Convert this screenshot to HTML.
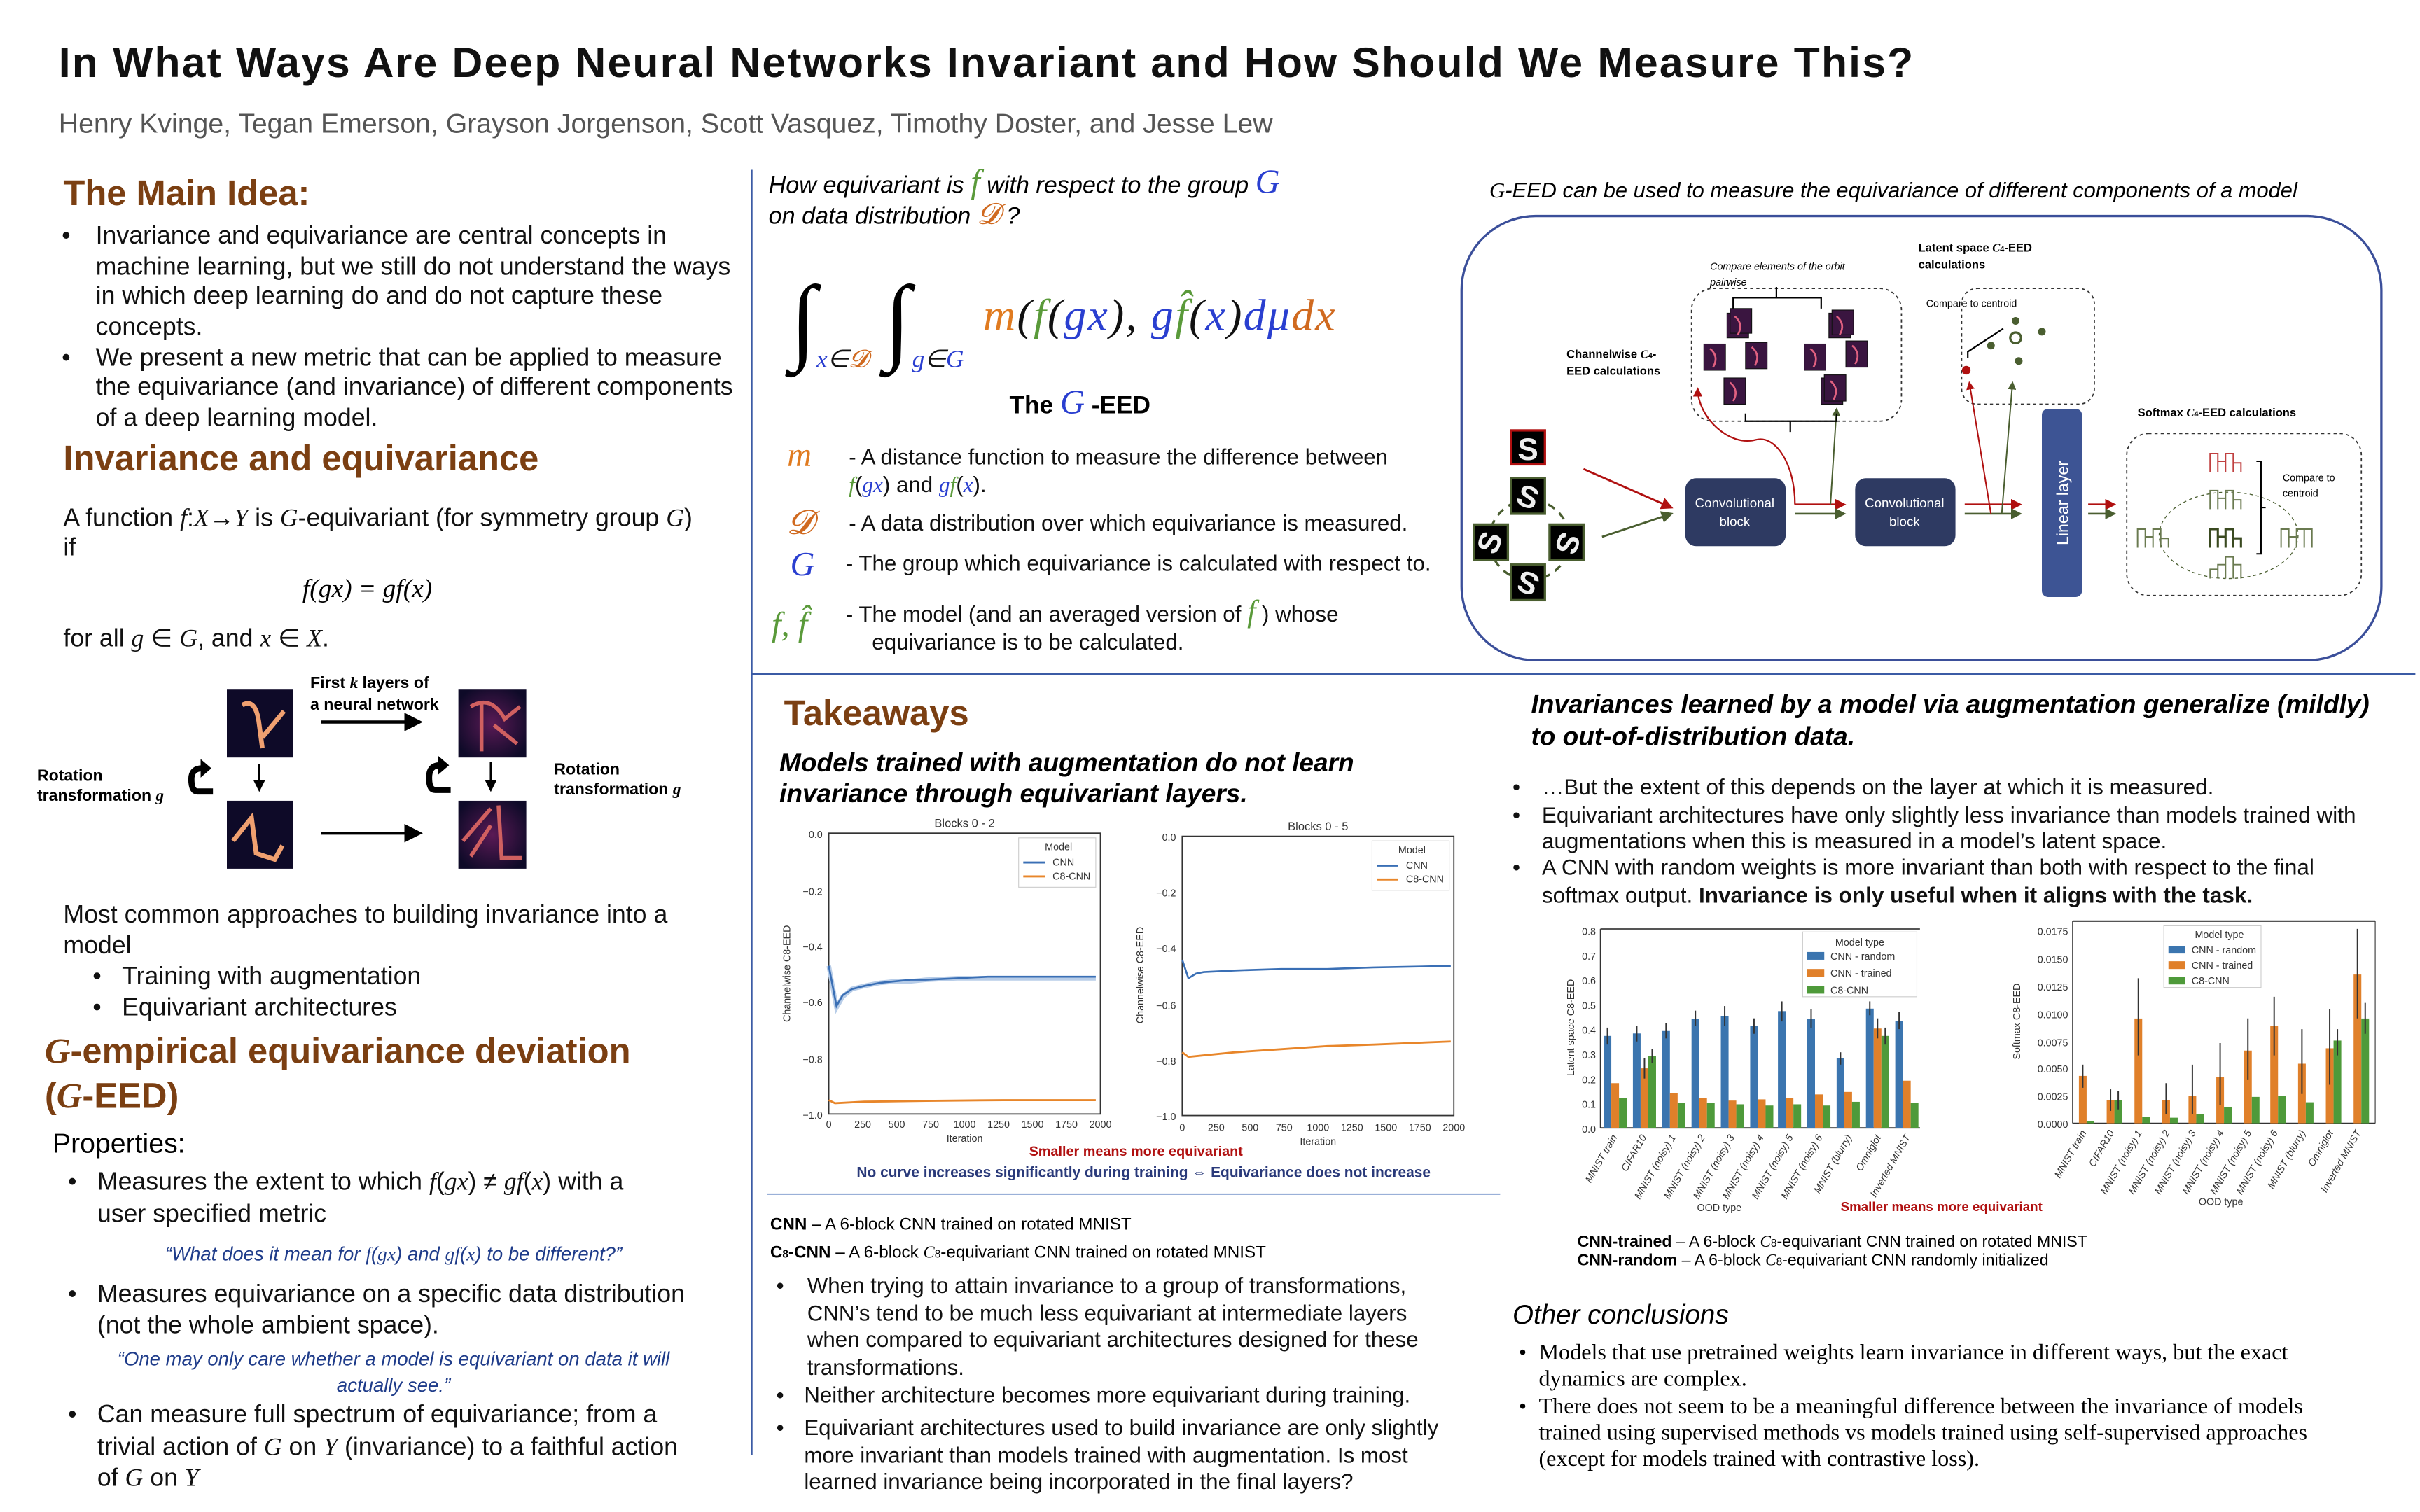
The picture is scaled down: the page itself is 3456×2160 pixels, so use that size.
<!DOCTYPE html>
<html><head><meta charset="utf-8">
<style>
html,body{margin:0;padding:0;background:#fff;}
svg{display:block;}
text{font-family:"Liberation Sans",sans-serif;}
.serif{font-family:"Liberation Serif",serif;}
.h{font-weight:bold;fill:#7b3f12;font-size:23px;}
.b{font-size:16.2px;fill:#111;}
.m{font-size:14.2px;fill:#111;}
.r{font-size:14.3px;fill:#111;}
.ti{font-family:"Liberation Serif",serif;font-style:italic;}
</style></head>
<body>
<svg width="3456" height="2160" viewBox="0 0 1568 980" xmlns="http://www.w3.org/2000/svg">
<defs>
<marker id="ak" markerWidth="6" markerHeight="6" refX="5" refY="3" orient="auto"><path d="M0,0L6,3L0,6z" fill="#000"/></marker>
<marker id="ar" markerWidth="6" markerHeight="6" refX="5" refY="3" orient="auto"><path d="M0,0L6,3L0,6z" fill="#b01010"/></marker>
<marker id="ag" markerWidth="6" markerHeight="6" refX="5" refY="3" orient="auto"><path d="M0,0L6,3L0,6z" fill="#4a5e30"/></marker>
<radialGradient id="hm" cx="50%" cy="50%" r="60%"><stop offset="0" stop-color="#5a1a55"/><stop offset="1" stop-color="#0e0a28"/></radialGradient>
</defs>
<rect width="1568" height="980" fill="#fff"/>
<!-- Title -->
<text x="38" y="50" font-size="27.5" font-weight="bold" fill="#111" letter-spacing="1.0">In What Ways Are Deep Neural Networks Invariant and How Should We Measure This?</text>
<text x="38" y="86" font-size="17.8" fill="#555">Henry Kvinge, Tegan Emerson, Grayson Jorgenson, Scott Vasquez, Timothy Doster, and Jesse Lew</text>

<!-- dividers -->
<line x1="487" y1="110" x2="487" y2="943" stroke="#3b5ba5" stroke-width="1.2"/>
<line x1="487" y1="437" x2="1565" y2="437" stroke="#3b5ba5" stroke-width="1.2"/>

<!-- LEFT COLUMN -->
<text x="41" y="133" class="h">The Main Idea:</text>
<g>
<text x="40" y="158" class="b">•</text>
<text x="62" y="158" class="b">Invariance and equivariance are central concepts in</text>
<text x="62" y="178" class="b">machine learning, but we still do not understand the ways</text>
<text x="62" y="197" class="b">in which deep learning do and do not capture these</text>
<text x="62" y="217" class="b">concepts.</text>
<text x="40" y="237" class="b">•</text>
<text x="62" y="237" class="b">We present a new metric that can be applied to measure</text>
<text x="62" y="256" class="b">the equivariance (and invariance) of different components</text>
<text x="62" y="276" class="b">of a deep learning model.</text>
</g>
<text x="41" y="305" class="h">Invariance and equivariance</text>
<text x="41" y="341" class="b">A function <tspan class="ti">f</tspan>:<tspan class="ti">X</tspan>→<tspan class="ti">Y</tspan> is <tspan class="ti">G</tspan>-equivariant (for symmetry group <tspan class="ti">G</tspan>)</text>
<text x="41" y="360" class="b">if</text>
<text x="238" y="387" text-anchor="middle" class="serif" font-size="17" font-style="italic">f(gx) = gf(x)</text>
<text x="41" y="419" class="b">for all <tspan class="ti">g</tspan> ∈ <tspan class="ti">G</tspan>, and <tspan class="ti">x</tspan> ∈ <tspan class="ti">X</tspan>.</text>

<!-- left figure -->
<g>
<rect x="147" y="447" width="43" height="44" fill="#0e0a28"/>
<path d="M157,457 Q166,452 168,470 L170,485 M170,478 L184,461" stroke="#f0a070" stroke-width="3" fill="none"/>
<rect x="297" y="447" width="44" height="44" fill="url(#hm)"/>
<path d="M312,455 L312,487 M305,458 Q318,450 327,466 L337,458 M320,470 L335,482" stroke="#d06060" stroke-width="2.5" fill="none"/>
<rect x="147" y="519" width="43" height="44" fill="#0e0a28"/>
<path d="M151,545 L163,530 L166,553 L178,557 L183,548" stroke="#f0a070" stroke-width="3" fill="none"/>
<rect x="297" y="519" width="44" height="44" fill="url(#hm)"/>
<path d="M300,545 L318,524 M323,522 L325,556 L338,556 M305,555 L318,535" stroke="#d06060" stroke-width="2.5" fill="none"/>
<text x="201" y="446" font-size="10.5" font-weight="bold">First <tspan font-style="italic" class="serif">k</tspan> layers of</text>
<text x="201" y="460" font-size="10.5" font-weight="bold">a neural network</text>
<line x1="208" y1="468" x2="272" y2="468" stroke="#000" stroke-width="2" marker-end="url(#ak)"/>
<line x1="208" y1="540" x2="272" y2="540" stroke="#000" stroke-width="2" marker-end="url(#ak)"/>
<line x1="168" y1="495" x2="168" y2="512" stroke="#000" stroke-width="1.3" marker-end="url(#ak)"/>
<line x1="318" y1="494" x2="318" y2="512" stroke="#000" stroke-width="1.3" marker-end="url(#ak)"/>
<path d="M138,513 L128,513 Q124,513 124,505 Q124,498 131,498" stroke="#000" stroke-width="4" fill="none"/>
<path d="M130,492 L137,498 L130,504z" fill="#000"/>
<path d="M292,512 L282,512 Q278,512 278,504 Q278,496 285,496" stroke="#000" stroke-width="4" fill="none"/>
<path d="M284,490 L291,496 L284,502z" fill="#000"/>
<text x="24" y="506" font-size="10.5" font-weight="bold">Rotation</text>
<text x="24" y="519" font-size="10.5" font-weight="bold">transformation <tspan class="serif" font-style="italic">g</tspan></text>
<text x="359" y="502" font-size="10.5" font-weight="bold">Rotation</text>
<text x="359" y="515" font-size="10.5" font-weight="bold">transformation <tspan class="serif" font-style="italic">g</tspan></text>
</g>

<text x="41" y="598" class="b">Most common approaches to building invariance into a</text>
<text x="41" y="618" class="b">model</text>
<text x="60" y="638" class="b">•</text><text x="79" y="638" class="b">Training with augmentation</text>
<text x="60" y="658" class="b">•</text><text x="79" y="658" class="b">Equivariant architectures</text>
<text x="29" y="689" class="h"><tspan class="ti">G</tspan>-empirical equivariance deviation</text>
<text x="29" y="718" class="h">(<tspan class="ti">G</tspan>-EED)</text>
<text x="34" y="747" font-size="17.8">Properties:</text>
<g>
<text x="44" y="771" class="b">•</text>
<text x="63" y="771" class="b">Measures the extent to which <tspan class="ti">f</tspan>(<tspan class="ti">gx</tspan>) ≠ <tspan class="ti">gf</tspan>(<tspan class="ti">x</tspan>) with a</text>
<text x="63" y="792" class="b">user specified metric</text>
<text x="255" y="817" text-anchor="middle" font-size="12.5" font-style="italic" fill="#1f3c8a">“What does it mean for <tspan class="serif">f</tspan>(<tspan class="serif">gx</tspan>) and <tspan class="serif">gf</tspan>(<tspan class="serif">x</tspan>) to be different?”</text>
<text x="44" y="844" class="b">•</text>
<text x="63" y="844" class="b">Measures equivariance on a specific data distribution</text>
<text x="63" y="864" class="b">(not the whole ambient space).</text>
<text x="255" y="885" text-anchor="middle" font-size="12.5" font-style="italic" fill="#1f3c8a">“One may only care whether a model is equivariant on data it will</text>
<text x="255" y="902" text-anchor="middle" font-size="12.5" font-style="italic" fill="#1f3c8a">actually see.”</text>
<text x="44" y="922" class="b">•</text>
<text x="63" y="922" class="b">Can measure full spectrum of equivariance; from a</text>
<text x="63" y="943" class="b">trivial action of <tspan class="ti">G</tspan> on <tspan class="ti">Y</tspan> (invariance) to a faithful action</text>
<text x="63" y="963" class="b">of <tspan class="ti">G</tspan> on <tspan class="ti">Y</tspan></text>
</g>

<!-- MIDDLE TOP -->
<text x="498" y="125" font-size="15.5" font-style="italic">How equivariant is <tspan class="serif" font-size="22" fill="#5a9a3a">f</tspan>  with respect to the group <tspan class="serif" font-size="22" fill="#2a3fd0">G</tspan></text>
<text x="498" y="145" font-size="15.5" font-style="italic">on data distribution <tspan class="serif" font-size="19" fill="#d06a20">𝓓</tspan> ?</text>
<text x="512" y="228" class="serif" font-size="62">∫</text>
<text x="529" y="238" class="serif" font-style="italic" font-size="16" fill="#2a3fd0">x<tspan fill="#111">∈</tspan><tspan fill="#d06a20">𝓓</tspan></text>
<text x="573" y="228" class="serif" font-size="62">∫</text>
<text x="591" y="238" class="serif" font-style="italic" font-size="16" fill="#2a3fd0">g<tspan fill="#111">∈</tspan>G</text>
<text x="637" y="214" class="serif" font-style="italic" font-size="29" letter-spacing="1"><tspan fill="#e07b20">m</tspan><tspan fill="#111">(</tspan><tspan fill="#5a9a3a">f</tspan><tspan fill="#111">(</tspan><tspan fill="#2a3fd0">gx</tspan><tspan fill="#111">), </tspan><tspan fill="#2a3fd0">g</tspan><tspan fill="#5a9a3a">f̂</tspan><tspan fill="#111">(</tspan><tspan fill="#2a3fd0">x</tspan><tspan fill="#111">)</tspan><tspan fill="#2a3fd0">dμ</tspan><tspan fill="#d06a20">dx</tspan></text>
<text x="654" y="268" font-size="16" font-weight="bold">The <tspan class="serif" font-style="italic" font-weight="normal" font-size="22" fill="#2a3fd0">G</tspan> -EED</text>
<text x="510" y="302" class="serif" font-style="italic" font-size="22" fill="#e07b20">m</text>
<text x="550" y="301" class="m">- A distance function to measure the difference between</text>
<text x="550" y="319" class="m"><tspan class="ti" fill="#5a9a3a">f</tspan>(<tspan class="ti" fill="#2a3fd0">gx</tspan>) and <tspan class="ti" fill="#2a3fd0">g</tspan><tspan class="ti" fill="#5a9a3a">f</tspan>(<tspan class="ti" fill="#2a3fd0">x</tspan>).</text>
<text x="510" y="346" class="serif" font-style="italic" font-size="22" fill="#d06a20">𝓓</text>
<text x="550" y="344" class="m">- A data distribution over which equivariance is measured.</text>
<text x="512" y="373" class="serif" font-style="italic" font-size="22" fill="#2a3fd0">G</text>
<text x="548" y="370" class="m">- The group which equivariance is calculated with respect to.</text>
<text x="500" y="412" class="serif" font-style="italic" font-size="22" fill="#5a9a3a">f, f̂</text>
<text x="548" y="403" class="m">-   The model (and an averaged version of  <tspan class="ti" font-size="20" fill="#5a9a3a">f</tspan>  ) whose</text>
<text x="565" y="421" class="m">equivariance is to be calculated.</text>

<!-- RIGHT TOP diagram -->
<text x="965" y="128" font-size="14" font-style="italic"><tspan class="serif">G</tspan>-EED can be used to measure the equivariance of different components of a model</text>
<rect x="947" y="140" width="596" height="288" rx="48" fill="none" stroke="#3b4f9a" stroke-width="1.5"/>
<circle cx="991" cy="350" r="26" fill="none" stroke="#4a5e30" stroke-width="1.5" stroke-dasharray="5,4"/>
<g stroke-width="1.5">
<rect x="979" y="279" width="22" height="22" fill="#000" stroke="#b01010"/>
<rect x="979" y="310" width="22" height="23" fill="#000" stroke="#4a5e30"/>
<rect x="955" y="340" width="22" height="23" fill="#000" stroke="#4a5e30"/>
<rect x="1004" y="340" width="22" height="23" fill="#000" stroke="#4a5e30"/>
<rect x="979" y="366" width="22" height="23" fill="#000" stroke="#4a5e30"/>
</g>
<g font-size="20" fill="#eee" font-weight="bold" text-anchor="middle">
<text x="990" y="298">S</text><text x="990" y="329" transform="rotate(20 990 322)">S</text>
<text x="966" y="358" transform="rotate(-70 966 352)">S</text><text x="1015" y="358" transform="rotate(110 1015 352)">S</text>
<text x="990" y="385" transform="rotate(200 990 378)">S</text>
</g>
<line x1="1026" y1="304" x2="1083" y2="329" stroke="#b01010" stroke-width="1.3" marker-end="url(#ar)"/>
<line x1="1038" y1="348" x2="1083" y2="333" stroke="#4a5e30" stroke-width="1.3" marker-end="url(#ag)"/>
<rect x="1092" y="310" width="65" height="44" rx="7" fill="#2e3a62"/>
<text x="1124" y="329" font-size="8.5" fill="#fff" text-anchor="middle">Convolutional</text>
<text x="1124" y="341" font-size="8.5" fill="#fff" text-anchor="middle">block</text>
<rect x="1202" y="310" width="65" height="44" rx="7" fill="#2e3a62"/>
<text x="1234" y="329" font-size="8.5" fill="#fff" text-anchor="middle">Convolutional</text>
<text x="1234" y="341" font-size="8.5" fill="#fff" text-anchor="middle">block</text>
<g stroke-width="1.2">
<line x1="1163" y1="327" x2="1195" y2="327" stroke="#b01010" marker-end="url(#ar)"/>
<line x1="1163" y1="333" x2="1195" y2="333" stroke="#4a5e30" marker-end="url(#ag)"/>
<line x1="1273" y1="327" x2="1309" y2="327" stroke="#b01010" marker-end="url(#ar)"/>
<line x1="1273" y1="333" x2="1309" y2="333" stroke="#4a5e30" marker-end="url(#ag)"/>
<line x1="1353" y1="327" x2="1370" y2="327" stroke="#b01010" marker-end="url(#ar)"/>
<line x1="1353" y1="333" x2="1370" y2="333" stroke="#4a5e30" marker-end="url(#ag)"/>
</g>
<rect x="1323" y="265" width="26" height="122" rx="4" fill="#3d5494"/>
<text x="1340" y="326" font-size="10.5" fill="#fff" text-anchor="middle" transform="rotate(-90 1340 326)">Linear layer</text>
<rect x="1096" y="187" width="136" height="86" rx="14" fill="none" stroke="#333" stroke-width="0.8" stroke-dasharray="2,2"/>
<text x="1015" y="232" font-size="7.5" font-weight="bold">Channelwise <tspan class="serif" font-style="italic">C</tspan><tspan font-size="5">4</tspan>-</text>
<text x="1015" y="243" font-size="7.5" font-weight="bold">EED calculations</text>
<text x="1108" y="175" font-size="6.5" font-style="italic">Compare elements of the orbit</text>
<text x="1108" y="185" font-size="6.5" font-style="italic">pairwise</text>
<path d="M1123,200 L1123,193 L1180,193 L1180,200 M1151,193 L1151,186" stroke="#000" fill="none" stroke-width="1"/>
<g fill="#3a1540" stroke="#111" stroke-width="0.5">
<rect x="1119" y="203" width="14" height="16"/><rect x="1121" y="200" width="14" height="16"/>
<rect x="1104" y="223" width="14" height="17"/><rect x="1131" y="222" width="14" height="17"/>
<rect x="1117" y="245" width="14" height="17"/><rect x="1185" y="203" width="14" height="16"/><rect x="1187" y="201" width="14" height="16"/>
<rect x="1169" y="223" width="14" height="17"/><rect x="1196" y="221" width="14" height="17"/>
<rect x="1180" y="245" width="14" height="17"/><rect x="1182" y="243" width="14" height="17"/>
</g>
<g stroke="#e06080" stroke-width="1.2" fill="none">
<path d="M1124,205 q6,5 2,12"/><path d="M1108,226 q6,5 2,12"/><path d="M1135,225 q6,5 2,12"/><path d="M1121,248 q6,5 2,12"/>
<path d="M1190,205 q6,5 2,12"/><path d="M1173,226 q6,5 2,12"/><path d="M1200,224 q6,5 2,12"/><path d="M1186,247 q6,5 2,12"/>
</g>
<path d="M1163,327 C1163,300 1150,282 1138,285 C1120,290 1100,270 1100,252" stroke="#b01010" fill="none" stroke-width="1" marker-end="url(#ar)"/>
<line x1="1186" y1="327" x2="1190" y2="265" stroke="#4a5e30" stroke-width="0.9" marker-end="url(#ag)"/>
<path d="M1131,268 L1131,273 L1190,273 L1190,268 M1160,273 L1160,280" stroke="#000" fill="none"/>
<text x="1243" y="163" font-size="7.5" font-weight="bold">Latent space <tspan class="serif" font-style="italic">C</tspan><tspan font-size="5">4</tspan>-EED</text>
<text x="1243" y="174" font-size="7.5" font-weight="bold">calculations</text>
<rect x="1271" y="187" width="86" height="75" rx="10" fill="none" stroke="#333" stroke-width="0.8" stroke-dasharray="2,2"/>
<text x="1248" y="199" font-size="6.5">Compare to centroid</text>
<circle cx="1306" cy="219" r="3.5" fill="none" stroke="#4a5e30" stroke-width="1.5"/>
<g fill="#4a5e30"><circle cx="1306" cy="208" r="2.5"/><circle cx="1323" cy="215" r="2.5"/><circle cx="1290" cy="224" r="2.5"/><circle cx="1308" cy="234" r="2.5"/></g>
<circle cx="1274" cy="240" r="2.8" fill="#b01010"/>
<path d="M1275,232 L1275,228 L1298,213" stroke="#000" fill="none"/>
<line x1="1290" y1="333" x2="1276" y2="248" stroke="#b01010" stroke-width="0.9" marker-end="url(#ar)"/>
<line x1="1297" y1="333" x2="1304" y2="248" stroke="#4a5e30" stroke-width="0.9" marker-end="url(#ag)"/>
<text x="1385" y="270" font-size="7.5" font-weight="bold">Softmax <tspan class="serif" font-style="italic">C</tspan><tspan font-size="5">4</tspan>-EED calculations</text>
<rect x="1378" y="281" width="152" height="105" rx="14" fill="none" stroke="#333" stroke-width="0.8" stroke-dasharray="2,2"/>
<ellipse cx="1444" cy="347" rx="45" ry="28" fill="none" stroke="#4a5e30" stroke-width="0.6" stroke-dasharray="2,2"/>
<g fill="none" stroke-width="0.9">
<path d="M1432,306 v-12 h5 v12 M1437,306 v-7 h5 v7 M1442,306 v-12 h5 v12 M1447,306 v-6 h5 v6" stroke="#c04040"/>
<path d="M1432,330 v-12 h5 v12 M1437,330 v-7 h5 v7 M1442,330 v-12 h5 v12 M1447,330 v-6 h5 v6" stroke="#6a7a50"/>
<path d="M1385,355 v-12 h5 v12 M1390,355 v-7 h5 v7 M1395,355 v-12 h5 v12 M1400,355 v-6 h5 v6" stroke="#6a7a50"/>
<path d="M1432,355 v-12 h5 v12 M1437,355 v-7 h5 v7 M1442,355 v-12 h5 v12 M1447,355 v-6 h5 v6" stroke="#3a4a20" stroke-width="1.4"/>
<path d="M1478,355 v-12 h5 v12 M1483,355 v-7 h5 v7 M1488,355 v-12 h5 v12 M1493,355 v-12 h5 v12" stroke="#6a7a50"/>
<path d="M1432,375 v-6 h5 v6 M1437,375 v-9 h5 v9 M1442,375 v-14 h5 v14 M1447,375 v-9 h5 v9" stroke="#6a7a50"/>
<path d="M1462,299 h3 v60 h-3 M1465,329 h3" stroke="#000"/>
</g>
<text x="1479" y="312" font-size="6.5">Compare to</text>
<text x="1479" y="322" font-size="6.5">centroid</text>

<!-- TAKEAWAYS -->
<text x="508" y="470" class="h">Takeaways</text>
<text x="505" y="500" font-size="16.8" font-weight="bold" font-style="italic">Models trained with augmentation do not learn</text>
<text x="505" y="520" font-size="16.8" font-weight="bold" font-style="italic">invariance through equivariant layers.</text>

<g font-size="6.5" fill="#333">
<text x="625" y="536" text-anchor="middle" font-size="7.5">Blocks 0 - 2</text>
<rect x="537" y="540" width="176" height="182" fill="none" stroke="#333" stroke-width="0.8"/>
<text x="533" y="543" text-anchor="end">0.0</text><text x="533" y="580" text-anchor="end">−0.2</text><text x="533" y="616" text-anchor="end">−0.4</text><text x="533" y="652" text-anchor="end">−0.6</text><text x="533" y="689" text-anchor="end">−0.8</text><text x="533" y="725" text-anchor="end">−1.0</text>
<text x="537" y="731" text-anchor="middle">0</text><text x="559" y="731" text-anchor="middle">250</text><text x="581" y="731" text-anchor="middle">500</text><text x="603" y="731" text-anchor="middle">750</text><text x="625" y="731" text-anchor="middle">1000</text><text x="647" y="731" text-anchor="middle">1250</text><text x="669" y="731" text-anchor="middle">1500</text><text x="691" y="731" text-anchor="middle">1750</text><text x="713" y="731" text-anchor="middle">2000</text>
<text x="625" y="740" text-anchor="middle">Iteration</text>
<text x="512" y="631" text-anchor="middle" transform="rotate(-90 512 631)">Channelwise C8-EED</text>
<rect x="660" y="543" width="50" height="32" fill="#fff" stroke="#ccc" stroke-width="0.5"/>
<text x="677" y="551">Model</text>
<line x1="663" y1="559" x2="677" y2="559" stroke="#3a6fb5" stroke-width="1.3"/><text x="682" y="561">CNN</text>
<line x1="663" y1="568" x2="677" y2="568" stroke="#e8862a" stroke-width="1.3"/><text x="682" y="570">C8-CNN</text>
<polyline points="537,626 542,653 546,646 552,641 560,639 570,637 580,636 590,636 600,635 620,634 640,634 660,634 680,634 710,634" fill="none" stroke="#b8cde8" stroke-width="3"/>
<polyline points="537,626 542,652 546,645 552,641 560,639 570,637 580,636 590,635 600,635 620,634 640,633 660,633 680,633 710,633" fill="none" stroke="#3a6fb5" stroke-width="1.2"/>
<polyline points="537,713 541,715 560,714 600,713.5 650,713 710,713" fill="none" stroke="#e8862a" stroke-width="1.3"/>
</g>
<g font-size="6.5" fill="#333">
<text x="854" y="538" text-anchor="middle" font-size="7.5">Blocks 0 - 5</text>
<rect x="766" y="542" width="176" height="181" fill="none" stroke="#333" stroke-width="0.8"/>
<text x="762" y="545" text-anchor="end">0.0</text><text x="762" y="581" text-anchor="end">−0.2</text><text x="762" y="617" text-anchor="end">−0.4</text><text x="762" y="654" text-anchor="end">−0.6</text><text x="762" y="690" text-anchor="end">−0.8</text><text x="762" y="726" text-anchor="end">−1.0</text>
<text x="766" y="733" text-anchor="middle">0</text><text x="788" y="733" text-anchor="middle">250</text><text x="810" y="733" text-anchor="middle">500</text><text x="832" y="733" text-anchor="middle">750</text><text x="854" y="733" text-anchor="middle">1000</text><text x="876" y="733" text-anchor="middle">1250</text><text x="898" y="733" text-anchor="middle">1500</text><text x="920" y="733" text-anchor="middle">1750</text><text x="942" y="733" text-anchor="middle">2000</text>
<text x="854" y="742" text-anchor="middle">Iteration</text>
<text x="741" y="632" text-anchor="middle" transform="rotate(-90 741 632)">Channelwise C8-EED</text>
<rect x="889" y="545" width="50" height="32" fill="#fff" stroke="#ccc" stroke-width="0.5"/>
<text x="906" y="553">Model</text>
<line x1="892" y1="561" x2="906" y2="561" stroke="#3a6fb5" stroke-width="1.3"/><text x="911" y="563">CNN</text>
<line x1="892" y1="570" x2="906" y2="570" stroke="#e8862a" stroke-width="1.3"/><text x="911" y="572">C8-CNN</text>
<polyline points="766,622 770,634 775,631 780,630 800,629 830,628 860,628 890,627 940,626" fill="none" stroke="#3a6fb5" stroke-width="1.2"/>
<polyline points="766,682 770,685 780,684 800,682 830,680 860,678 890,677 940,675" fill="none" stroke="#e8862a" stroke-width="1.3"/>
</g>
<text x="736" y="749" text-anchor="middle" font-size="9" font-weight="bold" fill="#b01010">Smaller means more equivariant</text>
<text x="741" y="763" text-anchor="middle" font-size="9.5" font-weight="bold" fill="#2a3a7a">No curve increases significantly during training ⇔ Equivariance does not increase</text>
<line x1="497" y1="774" x2="972" y2="774" stroke="#9ab0d8" stroke-width="1"/>
<text x="499" y="797" font-size="11"><tspan font-weight="bold">CNN</tspan> – A 6-block CNN trained on rotated MNIST</text>
<text x="499" y="815" font-size="11"><tspan font-weight="bold">C<tspan font-size="7">8</tspan>-CNN</tspan> – A 6-block <tspan class="ti">C</tspan><tspan font-size="7">8</tspan>-equivariant CNN trained on rotated MNIST</text>
<g>
<text x="503" y="838" class="m">•</text>
<text x="523" y="838" class="m">When trying to attain invariance to a group of transformations,</text>
<text x="523" y="856" class="m">CNN’s tend to be much less equivariant at intermediate layers</text>
<text x="523" y="873" class="m">when compared to equivariant architectures designed for these</text>
<text x="523" y="891" class="m">transformations.</text>
<text x="503" y="909" class="m">•</text>
<text x="521" y="909" class="m">Neither architecture becomes more equivariant during training.</text>
<text x="503" y="930" class="m">•</text>
<text x="521" y="930" class="m">Equivariant architectures used to build invariance are only slightly</text>
<text x="521" y="948" class="m">more invariant than models trained with augmentation. Is most</text>
<text x="521" y="965" class="m">learned invariance being incorporated in the final layers?</text>
</g>

<!-- RIGHT MIDDLE -->
<text x="992" y="462" font-size="16.8" font-weight="bold" font-style="italic">Invariances learned by a model via augmentation generalize (mildly)</text>
<text x="992" y="483" font-size="16.8" font-weight="bold" font-style="italic">to out-of-distribution data.</text>
<g>
<text x="980" y="515" class="r">•</text><text x="999" y="515" class="r">…But the extent of this depends on the layer at which it is measured.</text>
<text x="980" y="533" class="r">•</text><text x="999" y="533" class="r">Equivariant architectures have only slightly less invariance than models trained with</text>
<text x="999" y="550" class="r">augmentations when this is measured in a model’s latent space.</text>
<text x="980" y="567" class="r">•</text><text x="999" y="567" class="r">A CNN with random weights is more invariant than both with respect to the final</text>
<text x="999" y="585" class="r">softmax output. <tspan font-weight="bold">Invariance is only useful when it aligns with the task.</tspan></text>
</g>

<g font-size="6.5" fill="#333">
<line x1="1037" y1="602" x2="1037" y2="731" stroke="#333" stroke-width="0.8"/>
<line x1="1037" y1="731" x2="1244" y2="731" stroke="#333" stroke-width="0.8"/>
<line x1="1037" y1="602" x2="1244" y2="602" stroke="#555" stroke-width="1"/>
<text x="1034" y="606" text-anchor="end">0.8</text><text x="1034" y="622" text-anchor="end">0.7</text><text x="1034" y="638" text-anchor="end">0.6</text><text x="1034" y="654" text-anchor="end">0.5</text><text x="1034" y="670" text-anchor="end">0.4</text><text x="1034" y="686" text-anchor="end">0.3</text><text x="1034" y="702" text-anchor="end">0.2</text><text x="1034" y="718" text-anchor="end">0.1</text><text x="1034" y="734" text-anchor="end">0.0</text>
<text x="1020" y="666" text-anchor="middle" transform="rotate(-90 1020 666)">Latent space C8-EED</text>
<g fill="#3b75af">
<rect x="1039" y="671.4" width="5" height="59.6"/><rect x="1058" y="669.8" width="5" height="61.2"/><rect x="1077" y="668.2" width="5" height="62.8"/><rect x="1096" y="660.2" width="5" height="70.8"/><rect x="1115" y="658.5" width="5" height="72.5"/><rect x="1134" y="665" width="5" height="66"/><rect x="1152" y="655.3" width="5" height="75.7"/><rect x="1171" y="660.2" width="5" height="70.8"/><rect x="1190" y="686" width="5" height="45"/><rect x="1209" y="653.7" width="5" height="77.3"/><rect x="1228" y="661.8" width="5" height="69.2"/>
</g>
<g fill="#e0802a">
<rect x="1044" y="702" width="5" height="29"/><rect x="1063" y="692.4" width="5" height="38.6"/><rect x="1082" y="708.5" width="5" height="22.5"/><rect x="1101" y="711.7" width="5" height="19.3"/><rect x="1120" y="713.3" width="5" height="17.7"/><rect x="1139" y="712.5" width="5" height="18.5"/><rect x="1157" y="711.7" width="5" height="19.3"/><rect x="1176" y="709.3" width="5" height="21.7"/><rect x="1195" y="707.7" width="5" height="23.3"/><rect x="1214" y="666.6" width="5" height="64.4"/><rect x="1233" y="700.4" width="5" height="30.6"/>
</g>
<g fill="#4e9a3a">
<rect x="1049" y="711.7" width="5" height="19.3"/><rect x="1068" y="684.3" width="5" height="46.7"/><rect x="1087" y="714.9" width="5" height="16.1"/><rect x="1106" y="714.9" width="5" height="16.1"/><rect x="1125" y="715.7" width="5" height="15.3"/><rect x="1144" y="716.5" width="5" height="14.5"/><rect x="1162" y="715.7" width="5" height="15.3"/><rect x="1181" y="716.5" width="5" height="14.5"/><rect x="1200" y="714.1" width="5" height="16.9"/><rect x="1219" y="671.4" width="5" height="59.6"/><rect x="1238" y="714.9" width="5" height="16.1"/>
</g>
<g stroke="#333" stroke-width="0.9">
<line x1="1041.5" y1="666" x2="1041.5" y2="677"/><line x1="1060.5" y1="665" x2="1060.5" y2="675"/><line x1="1079.5" y1="663" x2="1079.5" y2="673"/><line x1="1098.5" y1="655" x2="1098.5" y2="665"/><line x1="1117.5" y1="652" x2="1117.5" y2="665"/><line x1="1136.5" y1="660" x2="1136.5" y2="670"/><line x1="1154.5" y1="649" x2="1154.5" y2="662"/><line x1="1173.5" y1="654" x2="1173.5" y2="666"/><line x1="1192.5" y1="682" x2="1192.5" y2="690"/><line x1="1211.5" y1="649" x2="1211.5" y2="658"/><line x1="1230.5" y1="656" x2="1230.5" y2="667"/><line x1="1216.5" y1="660" x2="1216.5" y2="673"/><line x1="1065.5" y1="686" x2="1065.5" y2="699"/><line x1="1070.5" y1="680" x2="1070.5" y2="689"/><line x1="1221.5" y1="666" x2="1221.5" y2="677"/>
</g>
<rect x="1168" y="604" width="74" height="42" fill="#fff" stroke="#ccc" stroke-width="0.5"/>
<text x="1205" y="613" text-anchor="middle">Model type</text>
<rect x="1171" y="617" width="11" height="5" fill="#3b75af"/><text x="1186" y="622">CNN - random</text>
<rect x="1171" y="628" width="11" height="5" fill="#e0802a"/><text x="1186" y="633">CNN - trained</text>
<rect x="1171" y="639" width="11" height="5" fill="#4e9a3a"/><text x="1186" y="644">C8-CNN</text>
<g font-size="6.5" font-style="italic" text-anchor="end">
<text transform="translate(1048,737) rotate(-60)">MNIST train</text>
<text transform="translate(1067,737) rotate(-60)">CIFAR10</text>
<text transform="translate(1086,737) rotate(-60)">MNIST (noisy) 1</text>
<text transform="translate(1105,737) rotate(-60)">MNIST (noisy) 2</text>
<text transform="translate(1124,737) rotate(-60)">MNIST (noisy) 3</text>
<text transform="translate(1143,737) rotate(-60)">MNIST (noisy) 4</text>
<text transform="translate(1162,737) rotate(-60)">MNIST (noisy) 5</text>
<text transform="translate(1181,737) rotate(-60)">MNIST (noisy) 6</text>
<text transform="translate(1200,737) rotate(-60)">MNIST (blurry)</text>
<text transform="translate(1219,737) rotate(-60)">Omniglot</text>
<text transform="translate(1238,737) rotate(-60)">Inverted MNIST</text>
</g>
<text x="1114" y="785" text-anchor="middle">OOD type</text>
</g>
<text x="1258" y="785" text-anchor="middle" font-size="8.5" font-weight="bold" fill="#b01010">Smaller means more equivariant</text>

<g font-size="6.5" fill="#333">
<line x1="1343" y1="597" x2="1343" y2="728" stroke="#333" stroke-width="0.8"/>
<line x1="1343" y1="728" x2="1539" y2="728" stroke="#333" stroke-width="0.8"/>
<line x1="1343" y1="597" x2="1539" y2="597" stroke="#555" stroke-width="1"/>
<line x1="1539" y1="597" x2="1539" y2="728" stroke="#333" stroke-width="0.5"/>
<text x="1340" y="606" text-anchor="end">0.0175</text><text x="1340" y="624" text-anchor="end">0.0150</text><text x="1340" y="642" text-anchor="end">0.0125</text><text x="1340" y="660" text-anchor="end">0.0100</text><text x="1340" y="678" text-anchor="end">0.0075</text><text x="1340" y="695" text-anchor="end">0.0050</text><text x="1340" y="713" text-anchor="end">0.0025</text><text x="1340" y="731" text-anchor="end">0.0000</text>
<text x="1309" y="662" text-anchor="middle" transform="rotate(-90 1309 662)">Softmax C8-EED</text>
<g fill="#e0802a">
<rect x="1347" y="697.3" width="5" height="30.7"/><rect x="1365" y="713" width="5" height="15"/><rect x="1383" y="660.1" width="5" height="67.9"/><rect x="1401" y="713" width="5" height="15"/><rect x="1418" y="710.1" width="5" height="17.9"/><rect x="1436" y="698" width="5" height="30"/><rect x="1454" y="680.9" width="5" height="47.1"/><rect x="1471" y="665.1" width="5" height="62.9"/><rect x="1489" y="689.4" width="5" height="38.6"/><rect x="1507" y="679.4" width="5" height="48.6"/><rect x="1525" y="631.6" width="5" height="96.4"/>
</g>
<g fill="#4e9a3a">
<rect x="1352" y="726.6" width="5" height="1.4"/><rect x="1370" y="713" width="5" height="15"/><rect x="1388" y="723.7" width="5" height="4.3"/><rect x="1406" y="724.4" width="5" height="3.6"/><rect x="1423" y="722.3" width="5" height="5.7"/><rect x="1441" y="717.3" width="5" height="10.7"/><rect x="1459" y="710.9" width="5" height="17.1"/><rect x="1476" y="710.1" width="5" height="17.9"/><rect x="1494" y="714.4" width="5" height="13.6"/><rect x="1512" y="674.4" width="5" height="53.6"/><rect x="1530" y="660.1" width="5" height="67.9"/>
</g>
<g stroke="#333" stroke-width="0.9">
<line x1="1349.5" y1="690" x2="1349.5" y2="705"/><line x1="1385.5" y1="634" x2="1385.5" y2="684"/><line x1="1403.5" y1="702" x2="1403.5" y2="722"/><line x1="1420.5" y1="690" x2="1420.5" y2="722"/><line x1="1438.5" y1="676" x2="1438.5" y2="716"/><line x1="1456.5" y1="660" x2="1456.5" y2="700"/><line x1="1473.5" y1="646" x2="1473.5" y2="684"/><line x1="1491.5" y1="667" x2="1491.5" y2="709"/><line x1="1509.5" y1="654" x2="1509.5" y2="703"/><line x1="1527.5" y1="602" x2="1527.5" y2="660"/><line x1="1532.5" y1="650" x2="1532.5" y2="670"/><line x1="1514.5" y1="667" x2="1514.5" y2="684"/><line x1="1367.5" y1="706" x2="1367.5" y2="720"/><line x1="1372.5" y1="707" x2="1372.5" y2="719"/>
</g>
<rect x="1402" y="600" width="63" height="40" fill="#fff" stroke="#ccc" stroke-width="0.5"/>
<text x="1438" y="608" text-anchor="middle">Model type</text>
<rect x="1405" y="613" width="11" height="5" fill="#3b75af"/><text x="1420" y="618">CNN - random</text>
<rect x="1405" y="623" width="11" height="5" fill="#e0802a"/><text x="1420" y="628">CNN - trained</text>
<rect x="1405" y="633" width="11" height="5" fill="#4e9a3a"/><text x="1420" y="638">C8-CNN</text>
<g font-size="6.5" font-style="italic" text-anchor="end">
<text transform="translate(1352,734) rotate(-60)">MNIST train</text>
<text transform="translate(1370,734) rotate(-60)">CIFAR10</text>
<text transform="translate(1388,734) rotate(-60)">MNIST (noisy) 1</text>
<text transform="translate(1406,734) rotate(-60)">MNIST (noisy) 2</text>
<text transform="translate(1423,734) rotate(-60)">MNIST (noisy) 3</text>
<text transform="translate(1441,734) rotate(-60)">MNIST (noisy) 4</text>
<text transform="translate(1459,734) rotate(-60)">MNIST (noisy) 5</text>
<text transform="translate(1476,734) rotate(-60)">MNIST (noisy) 6</text>
<text transform="translate(1494,734) rotate(-60)">MNIST (blurry)</text>
<text transform="translate(1512,734) rotate(-60)">Omniglot</text>
<text transform="translate(1530,734) rotate(-60)">Inverted MNIST</text>
</g>
<text x="1439" y="781" text-anchor="middle">OOD type</text>
</g>

<text x="1022" y="808" font-size="10.5"><tspan font-weight="bold">CNN-trained</tspan> – A 6-block <tspan class="ti">C</tspan><tspan font-size="7">8</tspan>-equivariant CNN trained on rotated MNIST</text>
<text x="1022" y="820" font-size="10.5"><tspan font-weight="bold">CNN-random</tspan> – A 6-block <tspan class="ti">C</tspan><tspan font-size="7">8</tspan>-equivariant CNN randomly initialized</text>

<text x="980" y="858" font-size="17.5" font-style="italic">Other conclusions</text>
<g>
<text x="984" y="881" class="serif" font-size="14.6">•</text><text x="997" y="881" class="serif" font-size="14.6">Models that use pretrained weights learn invariance in different ways, but the exact</text>
<text x="997" y="898" class="serif" font-size="14.6">dynamics are complex.</text>
<text x="984" y="916" class="serif" font-size="14.6">•</text><text x="997" y="916" class="serif" font-size="14.6">There does not seem to be a meaningful difference between the invariance of models</text>
<text x="997" y="933" class="serif" font-size="14.6">trained using supervised methods vs models trained using self-supervised approaches</text>
<text x="997" y="950" class="serif" font-size="14.6">(except for models trained with contrastive loss).</text>
</g>
</svg>
</body></html>
